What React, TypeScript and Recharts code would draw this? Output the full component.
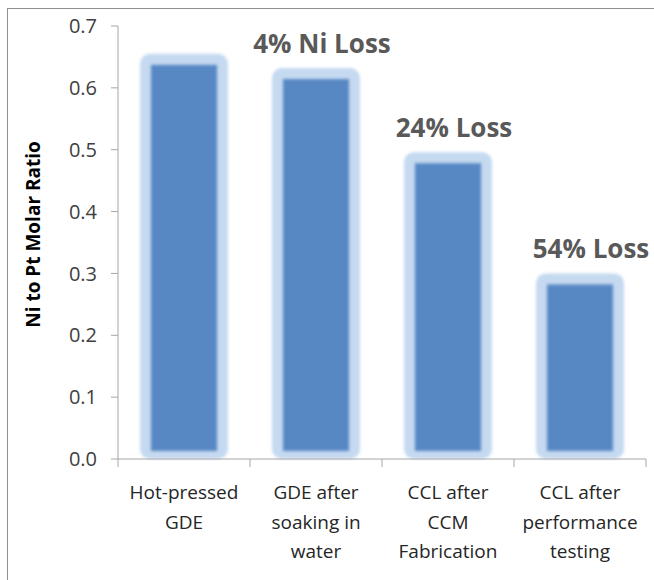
import { Bar, BarChart, LabelList, XAxis, YAxis } from "recharts";

const categories = [
  "Hot-pressed\nGDE",
  "GDE after\nsoaking in\nwater",
  "CCL after\nCCM\nFabrication",
  "CCL after\nperformance\ntesting",
];
const ratios = [0.655, 0.632, 0.496, 0.3];
const lossLabels = ["", "4% Ni Loss", "24% Loss", "54% Loss"];
const yTicks = [0, 0.1, 0.2, 0.3, 0.4, 0.5, 0.6, 0.7];

const WIDTH = 654;
const HEIGHT = 580;
const MARGIN = { top: 26, right: 8, bottom: 0, left: 0 };
const X_AXIS_HEIGHT = 121;
const Y_AXIS_WIDTH = 118;
const BAND = (WIDTH - MARGIN.left - MARGIN.right - Y_AXIS_WIDTH) / categories.length;
const FONT = "'Open Sans', sans-serif";
const AXIS_COLOR = "#a6a6a6";

const data = categories.map((name, i) => ({
  name,
  ratio: ratios[i],
  loss: lossLabels[i],
}));

function GlowBar(props: any) {
  const { x, y, width, height } = props;
  if (!height || height <= 0) return null;
  return (
    <g>
      <rect
        x={x}
        y={y}
        width={width}
        height={height}
        rx={10}
        fill="#c5d9f0"
        filter="url(#soft)"
      />
      <rect
        x={x + 11}
        y={y + 11}
        width={width - 22}
        height={height - 19}
        fill="#5888c4"
        filter="url(#soft)"
      />
    </g>
  );
}

function CategoryTick(props: any) {
  const { x, y, payload, index } = props;
  const lines = String(payload.value).split("\n");
  return (
    <g>
      <line x1={x - BAND / 2} y1={y - 8} x2={x - BAND / 2} y2={y} stroke={AXIS_COLOR} />
      {index === categories.length - 1 ? (
        <line x1={x + BAND / 2} y1={y - 8} x2={x + BAND / 2} y2={y} stroke={AXIS_COLOR} />
      ) : null}
      <text textAnchor="middle" fontFamily={FONT} fontSize={19} fill="#262626">
        {lines.map((line, i) => (
          <tspan key={i} x={x} y={y + 32 + i * 29.5}>
            {line}
          </tspan>
        ))}
      </text>
    </g>
  );
}

function LossLabel(props: any) {
  const { x, y, width, value, index } = props;
  if (!value) return null;
  return (
    <text
      x={x + width / 2 + (index === categories.length - 1 ? 11 : 6)}
      y={y - 15}
      textAnchor="middle"
      fontFamily={FONT}
      fontWeight={700}
      fontSize={26}
      fill="#595959"
    >
      {value}
    </text>
  );
}

function AxisTitle(props: any) {
  const { viewBox } = props;
  const cx = viewBox.x + 33;
  const cy = viewBox.y + viewBox.height / 2 - 8;
  return (
    <text
      x={cx}
      y={cy}
      transform={`rotate(-90 ${cx} ${cy})`}
      textAnchor="middle"
      dominantBaseline="central"
      fontFamily={FONT}
      fontWeight={700}
      fontSize={19}
      fill="#000"
    >
      Ni to Pt Molar Ratio
    </text>
  );
}

export default function App() {
  return (
    <div
      style={{
        position: "absolute",
        left: 0,
        top: 0,
        width: WIDTH,
        height: HEIGHT,
        overflow: "hidden",
        background: "#fff",
      }}
    >
      <div
        style={{
          position: "absolute",
          left: 7,
          top: 8,
          width: 680,
          height: 600,
          border: "1px solid #8f8f8f",
        }}
      />
      <div style={{ position: "absolute", left: 0, top: 0 }}>
        <BarChart width={WIDTH} height={HEIGHT} data={data} margin={MARGIN} barSize={88}>
          <defs>
            <filter id="soft" x="-10%" y="-10%" width="120%" height="120%">
              <feGaussianBlur stdDeviation="1.8" />
            </filter>
          </defs>
          <XAxis
            dataKey="name"
            axisLine={{ stroke: AXIS_COLOR }}
            tickLine={false}
            interval={0}
            tick={<CategoryTick />}
            height={X_AXIS_HEIGHT}
          />
          <YAxis
            width={Y_AXIS_WIDTH}
            domain={[0, 0.7]}
            ticks={yTicks}
            tickFormatter={(v: number) => v.toFixed(1)}
            axisLine={{ stroke: AXIS_COLOR }}
            tickLine={{ stroke: AXIS_COLOR }}
            tickSize={7}
            tickMargin={14}
            tick={{ fontFamily: FONT, fontSize: 20, fill: "#404040" }}
            label={<AxisTitle />}
          />
          <Bar dataKey="ratio" isAnimationActive={false} shape={<GlowBar />}>
            <LabelList dataKey="loss" content={<LossLabel />} />
          </Bar>
        </BarChart>
      </div>
    </div>
  );
}
